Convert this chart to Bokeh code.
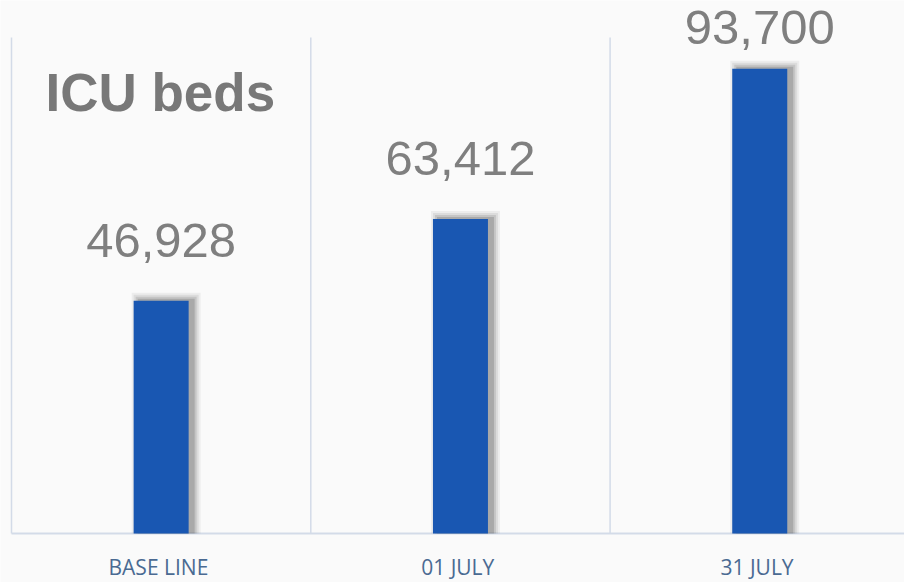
from bokeh.plotting import figure
from bokeh.models import Range1d, ColumnDataSource, Label
from bokeh.core.properties import value
from bokeh.embed import file_html
from bokeh.resources import INLINE

# ---- data ----
categories = ["BASE  LINE", "01  JULY", "31  JULY"]
beds = [46928, 63412, 93700]
bed_labels = ["46,928", "63,412", "93,700"]
title_text = "ICU beds"
y_max = 100000

# ---- layout (pixels) ----
W, H = 904, 582
left_px, band_px, base_px, top_px = 11, 299.3, 533, 37
bar_px = 55
baseline_fix = 20                            # renderer's alphabetic-baseline shift
scale = (base_px - top_px) / y_max          # px per unit
x_start = -0.5 - left_px / band_px
x_end = x_start + W / band_px
y_start = -(H - base_px) / scale
y_end = base_px / scale

idx = list(range(len(categories)))

p = figure(width=W, height=H, x_range=Range1d(x_start, x_end),
           y_range=Range1d(y_start, y_end), min_border=0,
           toolbar_location=None, output_backend="svg",
           x_axis_location=None, y_axis_location=None)
p.grid.visible = False
p.outline_line_color = None
p.background_fill_color = "#fafafa"
p.border_fill_color = "#fafafa"

# vertical separators at category boundaries
bounds = [i - 0.5 for i in idx] + [len(idx) - 0.5]
p.segment(x0=bounds, y0=[0] * len(bounds), x1=bounds, y1=[y_max] * len(bounds),
          line_color="#d3dbe8", line_width=1.5)
# baseline
p.segment(x0=[bounds[0]], y0=[0], x1=[bounds[-1]], y1=[0],
          line_color="#d3dbe8", line_width=2)

# bar shadows (soft, layered)
dx = 5 / band_px
for grow, alpha in [(14, 0.05), (10, 0.07), (6, 0.10), (2, 0.14)]:
    p.vbar(x=[i + dx for i in idx], width=(bar_px + grow) / band_px,
           top=[v + (grow / 2 + 1) / scale for v in beds], bottom=0,
           fill_color="black", fill_alpha=alpha, line_color=None)

# bars
src = ColumnDataSource(dict(x=idx, top=beds))
p.vbar(x="x", top="top", bottom=0, width=bar_px / band_px, source=src,
       fill_color="#1957b2", line_color=None)

# value labels (kept inside the chart area)
pad = (40 + baseline_fix) / scale
cap = (base_px - 47 + baseline_fix) / scale
label_y = [min(v + pad, cap) for v in beds]
p.text(x=idx, y=label_y, text=bed_labels, text_align="center",
       text_baseline="alphabetic", text_font=value("Liberation Sans"),
       text_font_size="49px", text_color="#7f7f7f")

# category labels
p.text(x=idx, y=[0] * len(idx), text=categories, y_offset=33,
       text_align="center", text_baseline="middle",
       text_font=value("Open Sans"), text_font_size="21px",
       text_color="#4a6a92")

# title
p.add_layout(Label(x=45, y=H - 112 + baseline_fix, x_units="screen", y_units="screen",
                   text=title_text, text_font="Liberation Sans",
                   text_font_size="53px", text_font_style="bold",
                   text_color="#787878", text_baseline="alphabetic"))

open("out.html", "w").write(file_html(p, INLINE))
